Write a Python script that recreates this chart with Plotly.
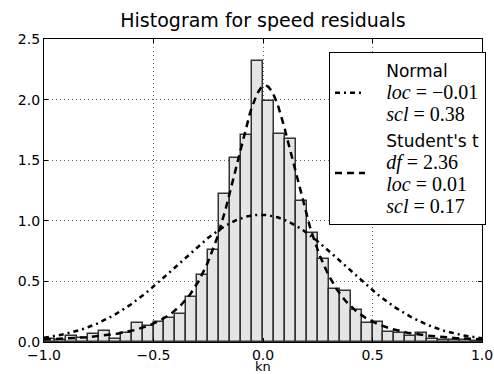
import math
import numpy as np
import plotly.graph_objects as go

# ---- data ----
bin_left_edges = [-1.00, -0.95, -0.90, -0.85, -0.80, -0.75, -0.70, -0.65, -0.60, -0.55,
                  -0.50, -0.45, -0.40, -0.35, -0.30, -0.25, -0.20, -0.15, -0.10, -0.05,
                  0.00, 0.05, 0.10, 0.15, 0.20, 0.25, 0.30, 0.35, 0.40, 0.45,
                  0.50, 0.55, 0.60, 0.65, 0.70, 0.75, 0.80, 0.85, 0.90, 0.95]
bin_width = 0.05
density = [0.027, 0.017, 0.046, 0.033, 0.063, 0.093, 0.025, 0.071, 0.157, 0.135,
           0.166, 0.198, 0.235, 0.368, 0.554, 0.761, 1.218, 1.519, 1.704, 2.321,
           1.988, 1.717, 1.679, 1.163, 0.902, 0.687, 0.441, 0.424, 0.265, 0.154,
           0.168, 0.085, 0.071, 0.052, 0.077, 0.025, 0.019, 0.017, 0.014, 0.008]

normal_loc = -0.01
normal_scl = 0.38
t_df = 2.36
t_loc = 0.01
t_scl = 0.17

x_ticks = [-1.0, -0.5, 0.0, 0.5, 1.0]
y_ticks = [0.0, 0.5, 1.0, 1.5, 2.0, 2.5]

# ---- derived curves (fitted pdfs from the legend parameters) ----
xs = np.linspace(-1.0, 1.0, 401)
normal_pdf = np.exp(-0.5 * ((xs - normal_loc) / normal_scl) ** 2) / (normal_scl * math.sqrt(2 * math.pi))
c = math.exp(math.lgamma((t_df + 1) / 2) - math.lgamma(t_df / 2)) / math.sqrt(t_df * math.pi)
t_pdf = c * (1 + ((xs - t_loc) / t_scl) ** 2 / t_df) ** (-(t_df + 1) / 2) / t_scl

centers = [e + bin_width / 2 for e in bin_left_edges]

SERIF = "'Liberation Serif', 'DejaVu Serif', serif"
PAD = "\u00a0" * 3

def textline(s):
    return PAD + s

def mathline(var, val):
    return (PAD + f"<span style=\"font-family:{SERIF};font-size:20px\"><i>{var}</i> = {val}</span>")

normal_name = textline("Normal") + "<br>" + mathline("loc", "\u22120.01") + "<br>" + mathline("scl", "0.38")
t_name = (textline("Student's t") + "<br>" + mathline("df", "2.36") + "<br>" + mathline("loc", "0.01")
          + "<br>" + mathline("scl", "0.17"))

fig = go.Figure()
fig.add_trace(go.Bar(
    x=centers, y=density, width=bin_width,
    marker=dict(color="#e5e5e5", line=dict(color="#333333", width=1.5)),
    showlegend=False, hoverinfo="skip",
))
fig.add_trace(go.Scatter(
    x=xs, y=normal_pdf, mode="lines", name=normal_name,
    line=dict(color="black", width=2.5, dash="5px,4px,2px,4px"),
))
fig.add_trace(go.Scatter(
    x=xs, y=t_pdf, mode="lines", name=t_name,
    line=dict(color="black", width=2.5, dash="7px,5px"),
))

axis_common = dict(
    showline=True, linecolor="black", linewidth=1.3, mirror="ticks",
    ticks="inside", ticklen=4, tickcolor="black", tickwidth=1,
    showgrid=True, gridcolor="#666666", gridwidth=0.8, griddash="1px,3px",
    zeroline=False,
    tickfont=dict(family="DejaVu Sans", size=14, color="black"),
)

fig.update_layout(
    width=494, height=374,
    margin=dict(l=44, r=12, t=39, b=32, autoexpand=False),
    paper_bgcolor="white", plot_bgcolor="white",
    bargap=0,
    title=dict(text="Histogram for speed residuals", x=0.5, xref="paper",
               y=1 - 20 / 374, yanchor="middle",
               font=dict(family="DejaVu Sans", size=19, color="black")),
    xaxis=dict(range=[-1.0, 1.0], tickvals=x_ticks, tickformat=".1f", **axis_common),
    yaxis=dict(range=[0, 2.5], tickvals=y_ticks, tickformat=".1f", **axis_common),
    legend=dict(x=(329 - 44) / 438, y=(341.5 - 52) / 302.5, xanchor="left", yanchor="top",
                bgcolor="white", bordercolor="black", borderwidth=1,
                font=dict(family="DejaVu Sans", size=17, color="black"),
                tracegroupgap=2),
    annotations=[dict(text="kn", xref="paper", yref="paper", x=0.5,
                      y=-(366 - 341.5) / 302.5, xanchor="center", yanchor="middle",
                      showarrow=False,
                      font=dict(family="DejaVu Sans", size=13, color="black"))],
)

fig.write_html("out.html")
